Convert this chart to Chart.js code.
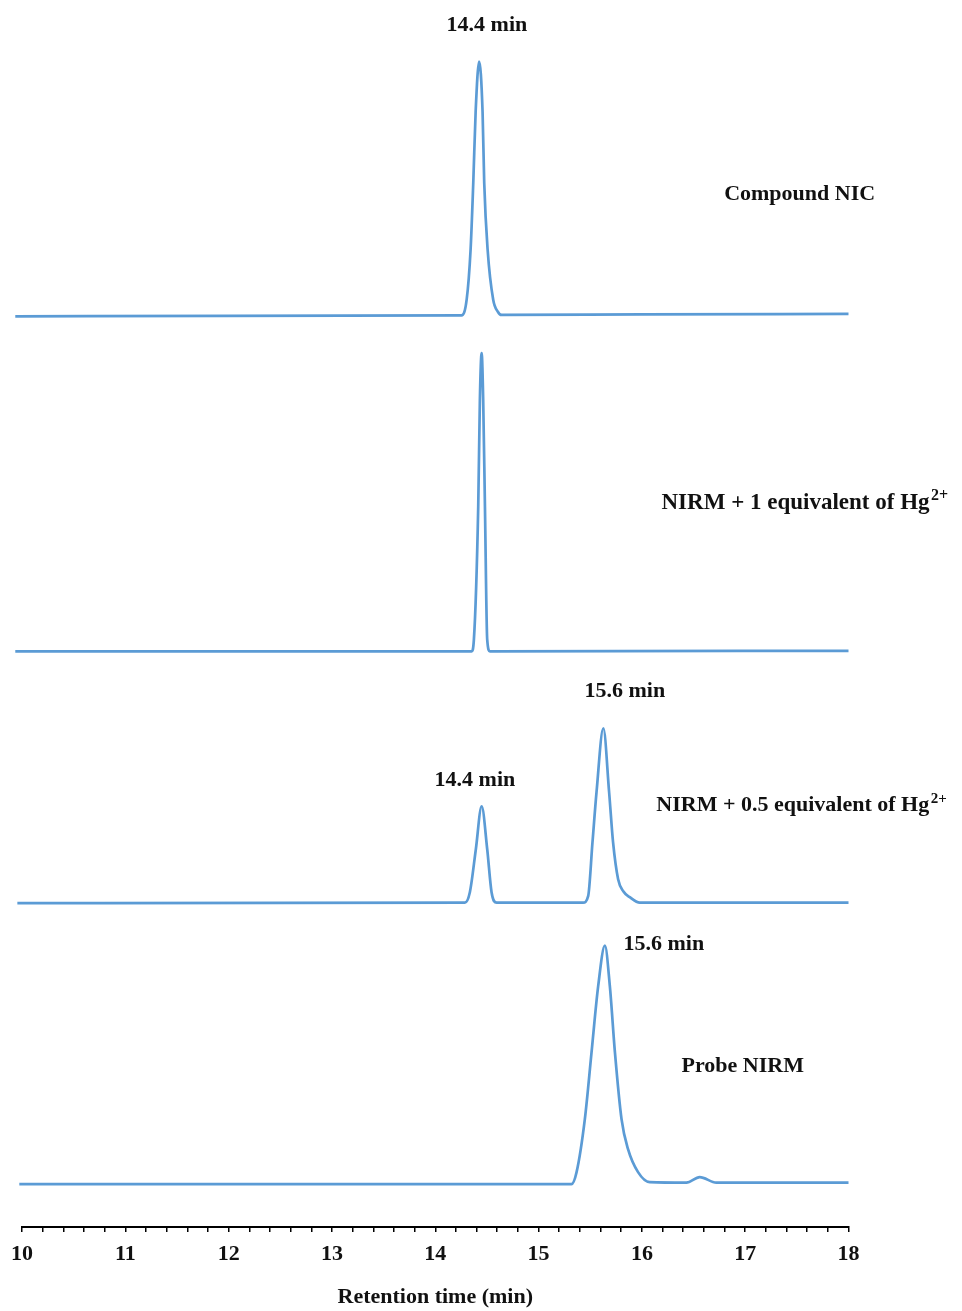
<!DOCTYPE html>
<html>
<head>
<meta charset="utf-8">
<script src="https://cdn.jsdelivr.net/npm/chart.js@4/dist/chart.umd.min.js"></script>
<style>
  html, body { margin: 0; padding: 0; background: #fff; }
  #wrap { width: 962px; height: 1311px; }
</style>
</head>
<body>
<div id="wrap"><canvas id="c" width="962" height="1311"></canvas></div>
<script>
// ---------- DATA ----------
// Retention time (min) and detector signal (arbitrary units, above each trace's baseline)
const nicTime   = [9.935, 12.0, 14.255, 14.304, 14.342, 14.368, 14.391, 14.425, 14.458, 14.474, 14.507, 14.561, 14.606, 14.642, 16.0, 18.0];
const nicSignal = [0, 0.5, 1, 16.7, 66.7, 133.7, 204.7, 255, 204.7, 133.7, 66.7, 16.7, 4.7, 1.5, 2, 2.5];

const hg1Time   = [9.935, 14.352, 14.374, 14.416, 14.432, 14.449, 14.464, 14.481, 14.503, 14.529, 18.0];
const hg1Signal = [0, 0, 11.7, 144.7, 251.7, 298.4, 251.7, 144.7, 11.7, 0, 0.5];

const hg05Time   = [9.955, 14.287, 14.335, 14.393, 14.449, 14.503, 14.545, 14.594, 15.431, 15.480, 15.522, 15.561, 15.627, 15.683, 15.721, 15.770, 15.820, 15.883, 15.980, 18.0];
const hg05Signal = [0, 0.5, 11, 54, 97, 54, 11, 0.5, 0.5, 7, 61, 111, 175, 111, 61, 24, 12, 6, 0.5, 0.5];

const probeTime   = [9.974, 15.319, 15.368, 15.448, 15.513, 15.577, 15.642, 15.690, 15.739, 15.803, 15.866, 15.963, 16.076, 16.431, 16.560, 16.721, 18.0];
const probeSignal = [0, 0, 12, 65, 132, 198, 238.5, 198, 132, 65, 35, 12, 2, 1.5, 7, 1.5, 1.5];

const traceNames = ['Compound NIC', 'NIRM + 1 equivalent of Hg', 'NIRM + 0.5 equivalent of Hg', 'Probe NIRM'];
const peakLabels = ['14.4 min', '15.6 min'];
const xTickLabels = ['10', '11', '12', '13', '14', '15', '16', '17', '18'];
const xTitle = 'Retention time (min)';

// ---------- LAYOUT / STYLE ----------
const stackOffset = [911, 576, 324, 43];   // vertical offset of each trace's baseline
const lineColor = '#5B9BD5';
const fontFamily = "'Liberation Serif', 'Times New Roman', serif";

function build(time, signal, off) {
  return time.map((t, i) => ({ x: t, y: signal[i] + off }));
}
const series = [
  [nicTime, nicSignal],
  [hg1Time, hg1Signal],
  [hg05Time, hg05Signal],
  [probeTime, probeSignal]
];
const datasets = series.map((s, k) => ({
  label: traceNames[k],
  data: build(s[0], s[1], stackOffset[k]),
  borderColor: lineColor,
  borderWidth: 2.7,
  pointRadius: 0,
  fill: false,
  cubicInterpolationMode: 'monotone',
  clip: false
}));

// annotations: [text, superscript, x (min), y (scale units), align, font size]
const annotations = [
  [peakLabels[0], '', 14.50, 1202.5, 'center', 22],
  [traceNames[0], '', 17.527, 1033.5, 'center', 22],
  [traceNames[1], '2+', 16.19, 724.5, 'left', 23],
  [peakLabels[1], '', 15.835, 535.5, 'center', 22],
  [peakLabels[0], '', 14.384, 446.5, 'center', 22],
  [traceNames[2], '2+', 16.14, 421.5, 'left', 22],
  [peakLabels[1], '', 16.212, 282.5, 'center', 22],
  [traceNames[3], '', 16.976, 160.5, 'center', 22]
];

const annotationPlugin = {
  id: 'labels',
  afterDatasetsDraw(chart) {
    const ctx = chart.ctx;
    const xs = chart.scales.x, ys = chart.scales.y;
    ctx.save();
    ctx.fillStyle = '#111';
    ctx.textBaseline = 'middle';
    annotations.forEach(([txt, sup, xv, yv, align, size]) => {
      const px = xs.getPixelForValue(xv);
      const py = ys.getPixelForValue(yv);
      const supSize = Math.round(size * 0.68);
      ctx.font = 'bold ' + size + 'px ' + fontFamily;
      const w = ctx.measureText(txt).width;
      ctx.font = 'bold ' + supSize + 'px ' + fontFamily;
      const ws = sup ? ctx.measureText(sup).width : 0;
      const left = align === 'center' ? px - (w + ws) / 2 : px;
      ctx.textAlign = 'left';
      ctx.font = 'bold ' + size + 'px ' + fontFamily;
      ctx.fillText(txt, left, py);
      if (sup) {
        ctx.font = 'bold ' + supSize + 'px ' + fontFamily;
        ctx.fillText(sup, left + w + 1.5, py - 7);
      }
    });
    ctx.restore();
  }
};

new Chart(document.getElementById('c'), {
  type: 'line',
  data: { datasets },
  options: {
    responsive: false,
    animation: false,
    devicePixelRatio: 1,
    layout: { padding: { left: 21.7, right: 113.5, top: 10, bottom: 0 } },
    plugins: { legend: { display: false }, tooltip: { enabled: false } },
    scales: {
      x: {
        type: 'linear',
        min: 10,
        max: 18,
        ticks: {
          stepSize: 0.2,
          autoSkip: false,
          maxRotation: 0,
          padding: 11,
          color: '#111',
          font: { family: fontFamily, size: 22, weight: 'bold', lineHeight: 1.0 },
          callback: (v) => {
            const r = Math.round(v);
            return Math.abs(v - r) < 1e-6 ? xTickLabels[r - 10] : '';
          }
        },
        grid: { drawOnChartArea: false, drawTicks: true, tickLength: 5, color: '#000', lineWidth: 1.5 },
        border: { display: true, color: '#000', width: 2 },
        title: {
          display: true,
          text: xTitle,
          color: '#111',
          font: { family: fontFamily, size: 22, weight: 'bold' },
          padding: { top: 8.5, bottom: 0 }
        }
      },
      y: { display: false, min: 0, max: 1217.5 }
    }
  },
  plugins: [annotationPlugin]
});
</script>
</body>
</html>
